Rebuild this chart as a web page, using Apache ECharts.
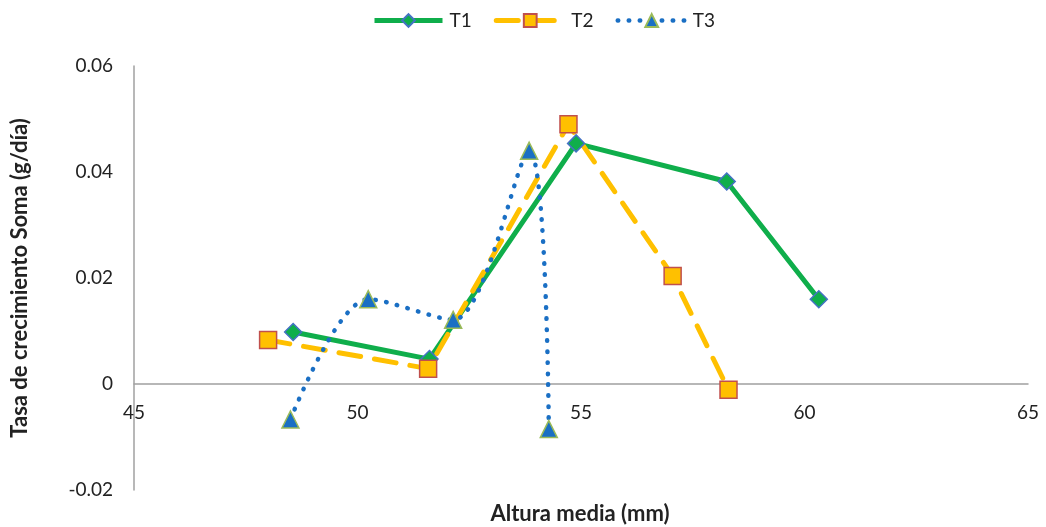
<!DOCTYPE html>
<html><head><meta charset="utf-8">
<script src="https://cdn.jsdelivr.net/npm/echarts@6/dist/echarts.min.js"></script>
<style>html,body{margin:0;padding:0;background:#fff}#c{width:1046px;height:527px}</style>
</head><body><div id="c"></div>
<script>
const seriesNames = ['T1','T2','T3'];
const t1 = [[48.56,0.0098],[51.61,0.0047],[54.89,0.0454],[58.26,0.0382],[60.32,0.0160]];
const t2 = [[48.00,0.0083],[51.58,0.0029],[54.72,0.0490],[57.05,0.0204],[58.30,-0.0011]];
const t3 = [[48.50,-0.0067],[50.24,0.0160],[52.14,0.0121],[53.84,0.0440],[54.28,-0.0085]];
const xTitle = 'Altura media (mm)';
const yTitle = 'Tasa de crecimiento Soma (g/día)';
const font = 'Lato, "Open Sans", sans-serif';
const chart = echarts.init(document.getElementById('c'));
chart.setOption({
  animation:false,
  textStyle:{fontFamily:font},
  legend:{top:6,left:367,itemWidth:68,itemHeight:16,itemGap:22,
    textStyle:{fontSize:19,color:'#222',fontFamily:font,padding:[0,0,0,2]},
    data:[
      {name:seriesNames[0],lineStyle:{width:5}},
      {name:seriesNames[1],lineStyle:{width:5}},
      {name:seriesNames[2],lineStyle:{width:4.5}}
    ]},
  grid:{left:134,right:18,top:66,bottom:37},
  xAxis:{type:'value',min:45,max:65,interval:5,offset:-106,
    axisLine:{onZero:false,lineStyle:{color:'#a0a0a0',width:1.5}},
    axisTick:{show:false},splitLine:{show:false},
    axisLabel:{fontSize:19,color:'#222',margin:19,fontFamily:font}},
  yAxis:{type:'value',min:-0.02,max:0.06,interval:0.02,
    name:yTitle,nameLocation:'middle',nameGap:103,
    nameTextStyle:{fontSize:22,fontWeight:'bold',color:'#222',fontFamily:font},
    axisLine:{show:true,lineStyle:{color:'#a0a0a0',width:1.5}},
    axisTick:{show:false},splitLine:{show:false},
    axisLabel:{fontSize:19,color:'#222',margin:21,fontFamily:font,
      formatter:v=>String(Math.round(v*100)/100)}},
  graphic:[{type:'text',x:580,y:514,style:{text:xTitle,textAlign:'center',textVerticalAlign:'middle',fill:'#222',font:'bold 22px '+font}}],
  series:[
    {name:'T1',type:'line',data:t1,symbol:'diamond',symbolSize:17,
      lineStyle:{color:'#0fae4b',width:5},
      itemStyle:{color:'#0fae4b',borderColor:'#4472c4',borderWidth:1.5}},
    {name:'T2',type:'line',data:t2,symbol:'rect',symbolSize:17,
      lineStyle:{color:'#ffc000',width:5,type:[22,14],cap:'round'},
      itemStyle:{color:'#ffc000',borderColor:'#c0504d',borderWidth:1.5}},
    {name:'T3',type:'line',data:t3,symbol:'triangle',symbolSize:17,smooth:0.3,
      lineStyle:{color:'#1a6fc4',width:4.5,type:[0.5,10.5],cap:'round'},
      itemStyle:{color:'#1a6fc4',borderColor:'#9bbb59',borderWidth:1.5}}
  ]
});
</script></body></html>
